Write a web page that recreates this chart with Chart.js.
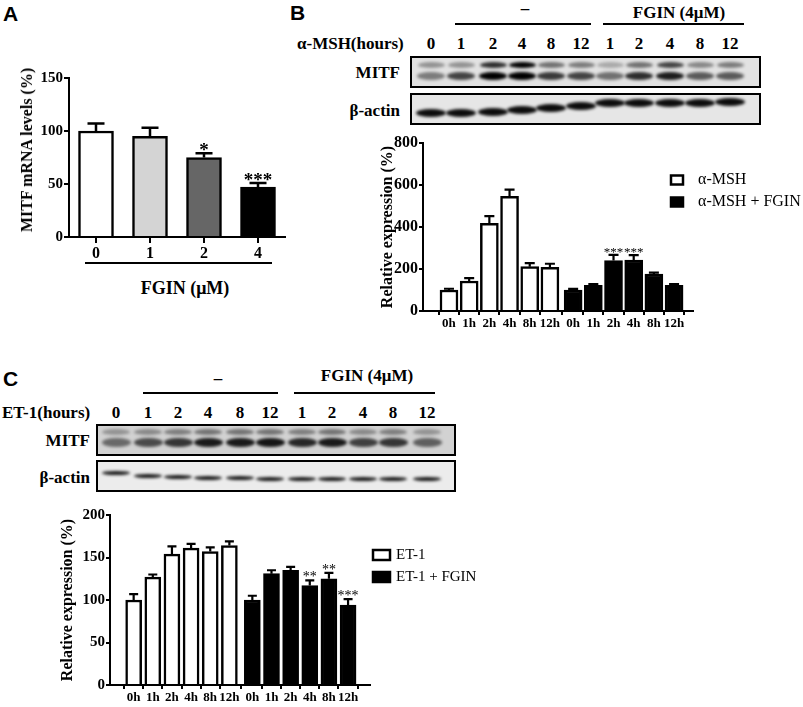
<!DOCTYPE html>
<html>
<head>
<meta charset="utf-8">
<script src="https://cdn.jsdelivr.net/npm/chart.js@4.4.0/dist/chart.umd.min.js"></script>
<style>
  html, body { margin: 0; padding: 0; background: #fff; }
  #fig { position: relative; width: 803px; height: 707px; overflow: hidden;
         font-family: 'Liberation Serif', 'Times New Roman', serif; color: #000; }
  .t { position: absolute; white-space: nowrap; line-height: 1; font-weight: bold; font-size: 17px; }
  .panel { font-family: 'Liberation Sans', Arial, sans-serif; font-size: 21px; }
  .rule { position: absolute; height: 2px; background: #000; }
  .blot { position: absolute; border: 2px solid #000; box-sizing: border-box; overflow: hidden; }
  .band { position: absolute; border-radius: 50%; filter: blur(1.5px); }
  canvas { position: absolute; }
</style>
</head>
<body>
<div id="fig">
  <canvas id="chartA" width="300" height="200" style="left:0;top:60px;width:300px;height:200px"></canvas>
  <canvas id="chartB" width="425" height="210" style="left:378px;top:130px;width:425px;height:210px"></canvas>
  <canvas id="chartC" width="500" height="207" style="left:58px;top:500px;width:500px;height:207px"></canvas>
</div>
<script>
// ---- panel A: MITF mRNA ----
const A_LABELS = ['0', '1', '2', '4'];
const A_VALUES = [100, 95, 75, 47];
const A_ERRORS = [7, 8, 4, 4];
const A_STARS = ['', '', '*', '***'];
const A_COLORS = ['#ffffff', '#d4d4d4', '#666666', '#000000'];
const A_TICKS = [0, 50, 100, 150];

// ---- panels B / C: time course ----
const TIME_LABELS = ['0h', '1h', '2h', '4h', '8h', '12h'];

const B_MSH = [100, 143, 417, 546, 211, 208];
const B_MSH_ERR = [6, 14, 35, 32, 17, 17];
const B_FGIN = [100, 122, 240, 243, 176, 122];
const B_FGIN_ERR = [5, 6, 27, 23, 7, 6];
const B_FGIN_STARS = ['', '', '***', '***', '', ''];
const B_TICKS = [0, 200, 400, 600, 800];

const C_ET1 = [100, 127, 154, 161, 157, 164];
const C_ET1_ERR = [7, 3, 9, 5, 5, 5];
const C_FGIN = [100, 131, 135, 117, 125, 94];
const C_FGIN_ERR = [5, 4, 4, 6, 7, 7];
const C_FGIN_STARS = ['', '', '', '**', '**', '***'];
const C_TICKS = [0, 50, 100, 150, 200];

const SERIF = "'Liberation Serif', 'Times New Roman', serif";
const fig = document.getElementById('fig');

// ---------- html labels / blots ----------
function text(str, x, y, anchor, extra) {
  const d = document.createElement('div');
  d.className = 't' + (extra ? ' ' + extra : '');
  d.textContent = str;
  d.style.left = x + 'px';
  d.style.top = y + 'px';
  const tx = anchor === 'right' ? '-100%' : anchor === 'left' ? '0' : '-50%';
  d.style.transform = 'translate(' + tx + ',-50%)';
  fig.appendChild(d);
  return d;
}
function rule(x1, x2, y) {
  const d = document.createElement('div');
  d.className = 'rule';
  d.style.left = x1 + 'px';
  d.style.width = (x2 - x1) + 'px';
  d.style.top = (y - 1) + 'px';
  fig.appendChild(d);
}
function blot(x, y, w, h, bg, bands) {
  const box = document.createElement('div');
  box.className = 'blot';
  Object.assign(box.style, { left: x + 'px', top: y + 'px', width: w + 'px', height: h + 'px', background: bg });
  bands.forEach(b => {
    const d = document.createElement('div');
    d.className = 'band';
    Object.assign(d.style, {
      left: (b.x - x - 2 - b.w / 2) + 'px', top: (b.y - y - 2 - b.h / 2) + 'px',
      width: b.w + 'px', height: b.h + 'px', background: 'rgba(0,0,0,' + b.a + ')'
    });
    box.appendChild(d);
  });
  fig.appendChild(box);
}

const LANE_NUMS = ['0', '1', '2', '4', '8', '12', '1', '2', '4', '8', '12'];

// panel letters
text('A', 3, 13, 'left', 'panel');
text('B', 290, 12, 'left', 'panel');
text('C', 3, 378, 'left', 'panel');

// panel A extras
rule(85, 272, 263);
text('FGIN (μM)', 185, 288, 'center').style.fontSize = '18px';
const aTitle = text('MITF mRNA levels (%)', 27, 150, 'center');
aTitle.style.fontSize = '16px';
aTitle.style.transform = 'translate(-50%,-50%) rotate(-90deg)';

// panel B blots
const B_LANES = [431, 461, 493, 522, 551, 581, 610, 639, 670, 700, 730];
const B_UP = [0.35, 0.35, 0.8, 1, 0.5, 0.45, 0.25, 0.5, 0.7, 0.4, 0.45];
const B_LO = [0.45, 0.7, 1, 1, 0.75, 0.7, 0.5, 0.8, 0.88, 0.6, 0.6];
const B_ACT_Y = [113, 112.5, 111.5, 110, 108, 105.5, 103, 102.5, 102.5, 102.5, 102];
text('–', 525, 8, 'center');
rule(455, 591, 24);
rule(603, 744, 24);
text('FGIN (4μM)', 679, 12, 'center');
text('α-MSH(hours)', 297, 43, 'left');
B_LANES.forEach((x, i) => text(LANE_NUMS[i], x, 43, 'center'));
text('MITF', 400, 72, 'right');
text('β-actin', 400, 110, 'right');
blot(410, 56, 351, 32, '#e2e2e2', B_LANES.flatMap((x, i) => [
  { x, y: 65, w: 27, h: 6, a: B_UP[i] },
  { x, y: 76, w: 28, h: 8, a: B_LO[i] }
]));
blot(410, 93, 351, 32, '#e6e6e6', B_LANES.map((x, i) => ({ x, y: B_ACT_Y[i], w: 30, h: 8, a: 0.95 })));

// panel C blots
const C_LANES = [116, 148, 178, 208, 240, 270, 302, 332, 363, 393, 427];
const C_UP = [0.3, 0.35, 0.4, 0.45, 0.45, 0.45, 0.4, 0.45, 0.35, 0.4, 0.3];
const C_LO = [0.5, 0.65, 0.75, 0.88, 0.88, 0.9, 0.82, 0.88, 0.7, 0.75, 0.55];
const C_ACT_Y = [473, 475.5, 476.5, 478, 478, 478.5, 478.5, 478.5, 478.5, 479, 479];
text('–', 218, 378, 'center');
rule(143, 278, 393);
rule(294, 435, 393);
text('FGIN (4μM)', 367, 375, 'center');
text('ET-1(hours)', 2, 412, 'left');
C_LANES.forEach((x, i) => text(LANE_NUMS[i], x, 412, 'center'));
text('MITF', 90, 440, 'right');
text('β-actin', 90, 477, 'right');
blot(96, 424, 360, 32, '#d2d2d2', C_LANES.flatMap((x, i) => [
  { x, y: 432, w: 28, h: 6, a: C_UP[i] },
  { x, y: 442, w: 29, h: 9, a: C_LO[i] }
]));
blot(96, 460, 360, 32, '#ececec', C_LANES.map((x, i) => ({ x, y: C_ACT_Y[i], w: 28, h: 4, a: 0.9 })));

// ---------- chart plugins ----------
const errorBars = {
  id: 'errorBars',
  afterDatasetsDraw(chart, args, opts) {
    const { ctx } = chart;
    const y = chart.scales.y;
    ctx.save();
    chart.data.datasets.forEach((ds, di) => {
      if (!ds.errors) return;
      chart.getDatasetMeta(di).data.forEach((bar, i) => {
        const raw = ds.data[i];
        const v = typeof raw === 'object' ? raw.y : raw;
        const top = y.getPixelForValue(v + ds.errors[i]);
        ctx.strokeStyle = '#000';
        ctx.lineWidth = opts.width;
        ctx.beginPath();
        ctx.moveTo(bar.x, bar.y);
        ctx.lineTo(bar.x, top);
        ctx.moveTo(bar.x - opts.cap / 2, top);
        ctx.lineTo(bar.x + opts.cap / 2, top);
        ctx.stroke();
        if (ds.stars && ds.stars[i]) {
          ctx.fillStyle = '#000';
          ctx.font = opts.starFont;
          ctx.textAlign = 'center';
          ctx.textBaseline = 'alphabetic';
          ctx.fillText(ds.stars[i], bar.x, top + opts.starDy);
        }
      });
    });
    ctx.restore();
  }
};

const boxLegend = {
  id: 'boxLegend',
  afterDraw(chart, args, opts) {
    if (opts.x === undefined) return;
    const { ctx } = chart;
    ctx.save();
    chart.data.datasets.forEach((ds, i) => {
      const cy = opts.y + i * opts.row;
      ctx.fillStyle = ds.backgroundColor;
      ctx.fillRect(opts.x, cy - opts.bh / 2, opts.bw, opts.bh);
      ctx.strokeStyle = '#000';
      ctx.lineWidth = 2.5;
      ctx.strokeRect(opts.x, cy - opts.bh / 2, opts.bw, opts.bh);
      ctx.fillStyle = '#000';
      ctx.font = opts.font;
      ctx.textAlign = 'left';
      ctx.textBaseline = 'middle';
      ctx.fillText(ds.label, opts.textX, cy);
    });
    ctx.restore();
  }
};

const axisGrid = { display: true, drawOnChartArea: false, color: '#000', lineWidth: 2 };
const axisBorder = { display: true, color: '#000', width: 2 };
const boldFont = size => ({ family: SERIF, size: size, weight: 'bold' });

Chart.defaults.animation = false;
Chart.defaults.color = '#000';

// ---------- panel A chart ----------
new Chart(document.getElementById('chartA'), {
  type: 'bar',
  data: {
    labels: A_LABELS,
    datasets: [{
      data: A_VALUES,
      errors: A_ERRORS,
      stars: A_STARS,
      backgroundColor: A_COLORS,
      borderColor: '#000',
      borderWidth: 2.5,
      barThickness: 35
    }]
  },
  options: {
    responsive: false,
    layout: { padding: { left: 0, top: 18, right: 15, bottom: 0 } },
    plugins: {
      legend: { display: false },
      tooltip: { enabled: false },
      errorBars: { width: 2.5, cap: 17, starFont: 'bold 19px ' + SERIF, starDy: 3 }
    },
    scales: {
      x: {
        grid: Object.assign({ offset: false, tickLength: 6 }, axisGrid),
        border: axisBorder,
        ticks: { font: boldFont(16), padding: 1, maxRotation: 0 },
        afterFit: s => { s.height = 23; }
      },
      y: {
        min: 0, max: 150,
        afterBuildTicks: s => { s.ticks = A_TICKS.map(v => ({ value: v })); },
        grid: Object.assign({ tickLength: 5 }, axisGrid),
        border: axisBorder,
        ticks: { font: boldFont(15), padding: 1 },
        afterFit: s => { s.width = 69; }
      }
    }
  },
  plugins: [errorBars]
});

// ---------- panels B / C ----------
function timeChart(id, cfg) {
  // second treatment group sits a little further along the axis
  const pos = [...TIME_LABELS.map((_, i) => i), ...TIME_LABELS.map((_, i) => i + 6 + cfg.gap)];
  const allLabels = [...TIME_LABELS, ...TIME_LABELS];
  const series = (vals, off) => vals.map((v, i) => ({ x: pos[i + off], y: v }));
  return new Chart(document.getElementById(id), {
    type: 'bar',
    data: {
      datasets: [
        {
          label: cfg.names[0], data: series(cfg.first, 0), errors: cfg.firstErr,
          backgroundColor: '#ffffff', borderColor: '#000', borderWidth: 2.5,
          barThickness: cfg.barW, grouped: false
        },
        {
          label: cfg.names[1], data: series(cfg.second, 6), errors: cfg.secondErr, stars: cfg.stars,
          backgroundColor: '#000000', borderColor: '#000', borderWidth: 2.5,
          barThickness: cfg.barW, grouped: false
        }
      ]
    },
    options: {
      responsive: false,
      layout: { padding: cfg.padding },
      plugins: {
        legend: { display: false },
        tooltip: { enabled: false },
        errorBars: { width: 2.2, cap: cfg.cap, starFont: cfg.starFont, starDy: 1 },
        boxLegend: cfg.legend
      },
      scales: {
        x: {
          type: 'linear',
          min: -cfg.padL, max: 11 + cfg.gap + cfg.padR,
          afterBuildTicks: s => { s.ticks = pos.map(v => ({ value: v })); },
          grid: Object.assign({ tickLength: 4 }, axisGrid),
          border: axisBorder,
          ticks: { font: boldFont(13), padding: 1, maxRotation: 0, autoSkip: false,
                   callback: (v, i) => allLabels[i] },
          afterFit: s => { s.height = cfg.xH; }
        },
        y: {
          min: 0, max: cfg.ticks[cfg.ticks.length - 1],
          afterBuildTicks: s => { s.ticks = cfg.ticks.map(v => ({ value: v })); },
          grid: Object.assign({ tickLength: 4 }, axisGrid),
          border: axisBorder,
          ticks: { font: boldFont(cfg.yFont), padding: 1 },
          title: { display: true, text: 'Relative expression (%)', font: boldFont(16), padding: 0 },
          afterFit: s => { s.width = cfg.yW; }
        }
      }
    },
    plugins: [errorBars, boxLegend]
  });
}

timeChart('chartB', {
  names: ['α-MSH', 'α-MSH + FGIN'],
  first: B_MSH, firstErr: B_MSH_ERR, second: B_FGIN, secondErr: B_FGIN_ERR, stars: B_FGIN_STARS,
  ticks: B_TICKS, gap: 0.15, padL: 0.73, padR: 0.38,
  barW: 18, cap: 10, starFont: '13px ' + SERIF, yFont: 16,
  padding: { left: 0, top: 13, right: 110, bottom: 0 }, yW: 45, xH: 29,
  legend: { x: 293, y: 50, row: 22, bw: 12, bh: 9, textX: 320, font: '16px ' + SERIF }
});

timeChart('chartC', {
  names: ['ET-1', 'ET-1 + FGIN'],
  first: C_ET1, firstErr: C_ET1_ERR, second: C_FGIN, secondErr: C_FGIN_ERR, stars: C_FGIN_STARS,
  ticks: C_TICKS, gap: 0.2, padL: 0.67, padR: 0.58,
  barW: 16, cap: 9, starFont: '14px ' + SERIF, yFont: 15,
  padding: { left: 0, top: 15, right: 188, bottom: 0 }, yW: 52, xH: 22,
  legend: { x: 315, y: 55, row: 22, bw: 17, bh: 10, textX: 338, font: '15px ' + SERIF }
});
</script>
</body>
</html>
